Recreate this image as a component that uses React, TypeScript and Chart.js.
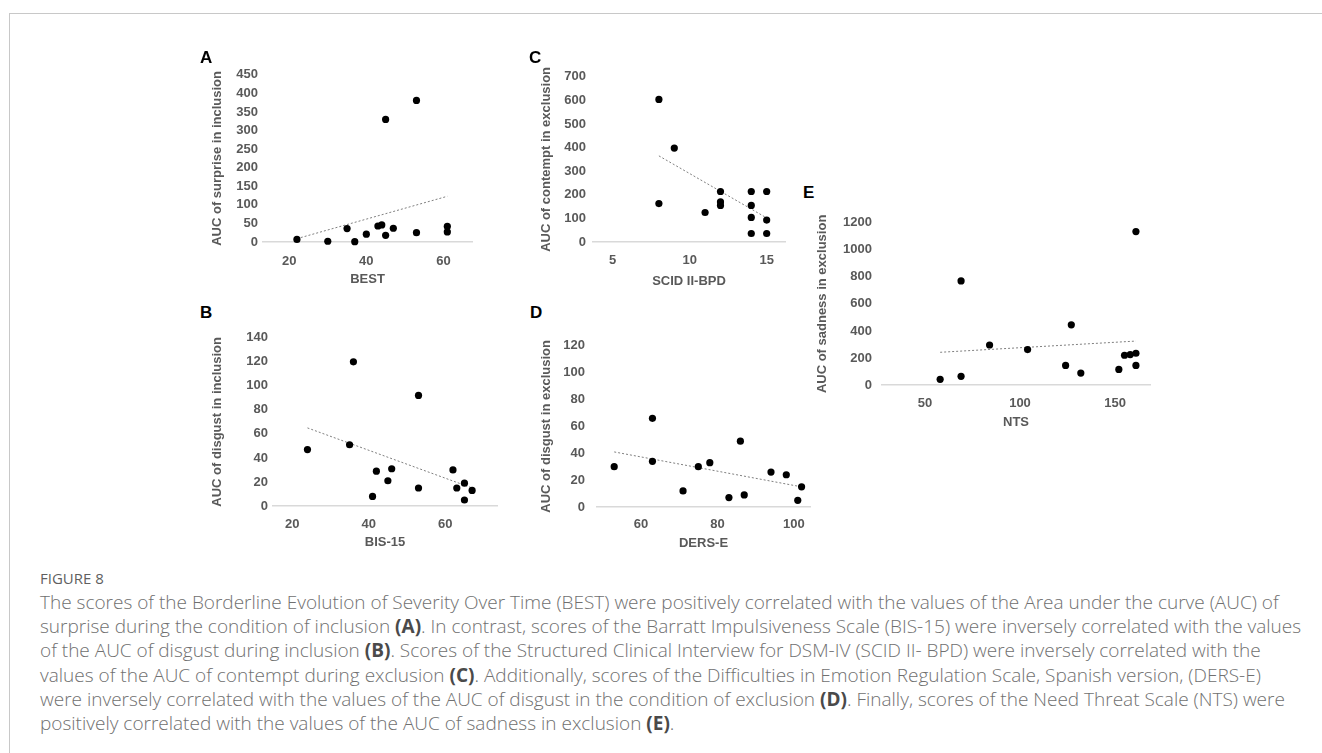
import React, { useEffect, useRef } from "react";
import { Chart, registerables } from "chart.js";

Chart.register(...registerables);

// ---------- Panel A: BEST vs AUC of surprise in inclusion ----------
const bestScores = [22, 30, 35, 37, 40, 43, 44, 45, 45, 47, 53, 53, 61, 61];
const surpriseInclusion = [7, 2, 36, 1, 21, 43, 46, 330, 18, 37, 381, 25, 42, 27];
const trendAX = [22, 61];
const trendAY = [9, 123];
const ticksAX = [20, 40, 60];

// ---------- Panel B: BIS-15 vs AUC of disgust in inclusion ----------
const bisScores = [24, 35, 36, 41, 42, 45, 46, 53, 53, 62, 63, 65, 65, 67];
const disgustInclusion = [47, 51, 120, 8, 29, 21, 31, 92, 15, 30, 15, 19, 5, 13];
const trendBX = [24, 67];
const trendBY = [65, 15];
const ticksBX = [20, 40, 60];

// ---------- Panel C: SCID II-BPD vs AUC of contempt in exclusion ----------
const scidScores = [8, 8, 9, 11, 12, 12, 12, 14, 14, 14, 14, 15, 15, 15];
const contemptExclusion = [604, 163, 398, 125, 214, 170, 155, 214, 155, 104, 36, 214, 93, 36];
const trendCX = [8, 15];
const trendCY = [365, 102];
const ticksCX = [5, 10, 15];

// ---------- Panel D: DERS-E vs AUC of disgust in exclusion ----------
const dersScores = [53, 63, 63, 71, 75, 78, 83, 86, 87, 94, 98, 101, 102];
const disgustExclusion = [30, 66, 34, 12, 30, 33, 7, 49, 9, 26, 24, 5, 15];
const trendDX = [53, 102];
const trendDY = [41, 15];
const ticksDX = [60, 80, 100];

// ---------- Panel E: NTS vs AUC of sadness in exclusion ----------
const ntsScores = [58, 69, 69, 84, 104, 124, 127, 132, 152, 155, 158, 161, 161, 161];
const sadnessExclusion = [42, 64, 770, 296, 262, 145, 445, 88, 115, 220, 225, 235, 145, 1135];
const trendEX = [58, 161];
const trendEY = [242, 325];
const ticksEX = [50, 100, 150];

// ---------- layout (page pixel geometry, not data) ----------
const TICK_FONT = { family: "'Liberation Sans', Arial, sans-serif", size: 13, weight: "bold" as const };
const AXIS_COLOR = "#595959";
const LH = 13 * 1.2;

type Geo = {
  yTitleX: number; left: number; right: number; top: number; bottom: number;
  xTickY: number; xTitleY: number; yLabelRight: number;
};

type Spec = {
  xs: number[]; ys: number[]; tx: number[]; ty: number[];
  xTicks: number[]; xMin: number; xMax: number; yMax: number; yStep: number;
  xTitle: string; yTitle: string;
};

const geoA: Geo = { yTitleX: 218, left: 263, right: 472, top: 72, bottom: 242, xTickY: 261, xTitleY: 279, yLabelRight: 258 };
const geoC: Geo = { yTitleX: 547, left: 593, right: 785, top: 72, bottom: 242, xTickY: 260, xTitleY: 281, yLabelRight: 586 };
const geoB: Geo = { yTitleX: 218, left: 273, right: 497, top: 335, bottom: 506, xTickY: 524, xTitleY: 542, yLabelRight: 268 };
const geoD: Geo = { yTitleX: 547, left: 597, right: 810, top: 336, bottom: 507, xTickY: 524, xTitleY: 543, yLabelRight: 585 };
const geoE: Geo = { yTitleX: 823, left: 882, right: 1150, top: 215, bottom: 385, xTickY: 403, xTitleY: 422, yLabelRight: 872 };

const specA: Spec = { xs: bestScores, ys: surpriseInclusion, tx: trendAX, ty: trendAY, xTicks: ticksAX, xMin: 13.2, xMax: 67.4, yMax: 450, yStep: 50, xTitle: "BEST", yTitle: "AUC of surprise in inclusion" };
const specB: Spec = { xs: bisScores, ys: disgustInclusion, tx: trendBX, ty: trendBY, xTicks: ticksBX, xMin: 15, xMax: 73.5, yMax: 140, yStep: 20, xTitle: "BIS-15", yTitle: "AUC of disgust in inclusion" };
const specC: Spec = { xs: scidScores, ys: contemptExclusion, tx: trendCX, ty: trendCY, xTicks: ticksCX, xMin: 3.72, xMax: 16.19, yMax: 700, yStep: 100, xTitle: "SCID II-BPD", yTitle: "AUC of contempt in exclusion" };
const specD: Spec = { xs: dersScores, ys: disgustExclusion, tx: trendDX, ty: trendDY, xTicks: ticksDX, xMin: 48.5, xMax: 104.2, yMax: 120, yStep: 20, xTitle: "DERS-E", yTitle: "AUC of disgust in exclusion" };
const specE: Spec = { xs: ntsScores, ys: sadnessExclusion, tx: trendEX, ty: trendEY, xTicks: ticksEX, xMin: 27.4, xMax: 168.4, yMax: 1200, yStep: 200, xTitle: "NTS", yTitle: "AUC of sadness in exclusion" };

function ScatterPanel({ spec, geo }: { spec: Spec; geo: Geo }) {
  const ref = useRef<HTMLCanvasElement>(null);
  const canvasLeft = Math.round(geo.yTitleX - LH / 2);
  const canvasTop = geo.top - 10;
  const canvasRight = geo.right + 8;
  const scaleBottom = Math.round(geo.xTitleY + LH / 2);
  const w = canvasRight - canvasLeft;
  const h = scaleBottom - canvasTop;

  useEffect(() => {
    if (!ref.current) return;
    const chart = new Chart(ref.current, {
      type: "scatter",
      data: {
        datasets: [
          {
            data: spec.xs.map((x, i) => ({ x, y: spec.ys[i] })),
            backgroundColor: "#000000",
            borderColor: "#000000",
            borderWidth: 0,
            pointRadius: 3.6,
            clip: false,
            order: 0,
          } as any,
          {
            data: spec.tx.map((x, i) => ({ x, y: spec.ty[i] })),
            showLine: true,
            borderColor: "#7f7f7f",
            borderWidth: 1,
            borderDash: [2, 2],
            pointRadius: 0,
            clip: false,
            order: 1,
          } as any,
        ],
      },
      options: {
        animation: false,
        responsive: false,
        maintainAspectRatio: false,
        events: [],
        layout: { padding: { left: 0, top: 10, right: 8, bottom: 0 } },
        plugins: { legend: { display: false }, tooltip: { enabled: false } },
        scales: {
          x: {
            type: "linear",
            min: spec.xMin,
            max: spec.xMax,
            grid: { display: false, drawTicks: false },
            border: { display: true, color: "#d9d9d9", width: 1.5 },
            ticks: {
              autoSkip: false,
              maxRotation: 0,
              padding: geo.xTickY - geo.bottom - LH / 2,
              font: TICK_FONT,
              color: AXIS_COLOR,
              callback: (v: any) => String(v),
            },
            afterBuildTicks: (s: any) => { s.ticks = spec.xTicks.map((v) => ({ value: v })); },
            afterFit: (s: any) => { s.height = scaleBottom - geo.bottom; },
            title: { display: true, text: spec.xTitle, font: TICK_FONT, color: AXIS_COLOR, padding: 0 },
          },
          y: {
            type: "linear",
            min: 0,
            max: spec.yMax,
            grid: { display: false, drawTicks: false },
            border: { display: false },
            ticks: {
              autoSkip: false,
              stepSize: spec.yStep,
              padding: geo.left - geo.yLabelRight,
              font: TICK_FONT,
              color: AXIS_COLOR,
              callback: (v: any) => String(v),
            },
            afterFit: (s: any) => { s.width = geo.left - canvasLeft; },
            title: { display: true, text: spec.yTitle, font: TICK_FONT, color: AXIS_COLOR, padding: 0 },
          },
        },
      },
    });
    return () => chart.destroy();
  }, []);

  return (
    <canvas
      ref={ref}
      width={w}
      height={h}
      style={{ position: "absolute", left: canvasLeft, top: canvasTop, width: w, height: h }}
    />
  );
}

const letterStyle = (left: number, top: number): React.CSSProperties => ({
  position: "absolute",
  left,
  top,
  fontFamily: "'Liberation Sans', Arial, sans-serif",
  fontWeight: "bold",
  fontSize: 17,
  lineHeight: "17px",
  color: "#000",
});

export default function App() {
  const b = { fontWeight: 700, color: "#4a4a4a" } as React.CSSProperties;
  return (
    <div
      style={{
        position: "absolute",
        left: 0,
        top: 0,
        width: 1322,
        height: 753,
        background: "#fff",
        overflow: "hidden",
      }}
    >
      <div
        style={{
          position: "absolute",
          left: 9,
          top: 13,
          width: 1330,
          height: 760,
          borderTop: "1px solid #c8c8c8",
          borderLeft: "1px solid #c8c8c8",
        }}
      />
      <ScatterPanel spec={specA} geo={geoA} />
      <ScatterPanel spec={specC} geo={geoC} />
      <ScatterPanel spec={specB} geo={geoB} />
      <ScatterPanel spec={specD} geo={geoD} />
      <ScatterPanel spec={specE} geo={geoE} />
      <div style={letterStyle(200, 49)}>A</div>
      <div style={letterStyle(529, 49)}>C</div>
      <div style={letterStyle(200, 304)}>B</div>
      <div style={letterStyle(530, 304)}>D</div>
      <div style={letterStyle(803, 184)}>E</div>
      <div
        style={{
          position: "absolute",
          left: 40,
          top: 568,
          fontFamily: "'Open Sans', sans-serif",
          fontSize: 15,
          lineHeight: "20px",
          color: "#5f5f5f",
        }}
      >
        FIGURE 8
      </div>
      <div
        style={{
          position: "absolute",
          left: 40,
          top: 590,
          fontFamily: "'Open Sans', sans-serif",
          fontSize: 19,
          fontWeight: 300,
          lineHeight: "24.2px",
          color: "#707070",
          whiteSpace: "nowrap",
        }}
      >
        The scores of the Borderline Evolution of Severity Over Time (BEST) were positively correlated with the values of the Area under the curve (AUC) of
        <br />
        surprise during the condition of inclusion <span style={b}>(A)</span>. In contrast, scores of the Barratt Impulsiveness Scale (BIS-15) were inversely correlated with the values
        <br />
        of the AUC of disgust during inclusion <span style={b}>(B)</span>. Scores of the Structured Clinical Interview for DSM-IV (SCID II- BPD) were inversely correlated with the
        <br />
        values of the AUC of contempt during exclusion <span style={b}>(C)</span>. Additionally, scores of the Difficulties in Emotion Regulation Scale, Spanish version, (DERS-E)
        <br />
        were inversely correlated with the values of the AUC of disgust in the condition of exclusion <span style={b}>(D)</span>. Finally, scores of the Need Threat Scale (NTS) were
        <br />
        positively correlated with the values of the AUC of sadness in exclusion <span style={b}>(E)</span>.
      </div>
    </div>
  );
}
